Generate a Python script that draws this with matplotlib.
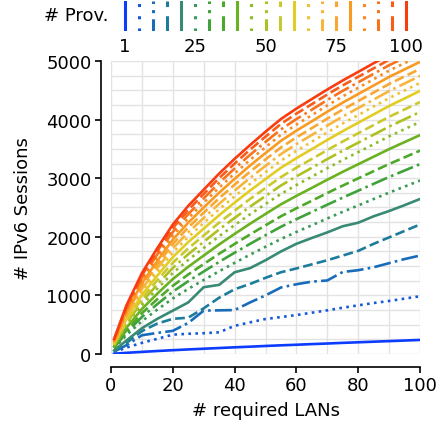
import matplotlib
matplotlib.use("Agg")
import matplotlib.pyplot as plt
from matplotlib.ticker import MultipleLocator

plt.rcParams['font.family'] = ['DejaVu Sans']
plt.rcParams['font.size'] = 13

# x axis: number of required LANs
lans = [1, 5, 10, 15, 20, 25, 30, 35, 40, 45, 50, 55, 60, 65, 70, 75, 80, 85, 90, 95, 100]

# number of providers for each curve
providers = [1, 5, 10, 15, 20, 25, 30, 35, 40, 45, 50, 55, 60, 65, 70, 75, 80, 85, 90, 95, 100]

# IPv6 sessions, one list per provider count
s1 = [5, 20, 36, 51, 65, 78, 90, 102, 114, 125, 137, 148, 158, 169, 179, 190, 200, 210, 220, 230, 240]
s5 = [30, 110, 190, 260, 330, 345, 355, 370, 480, 540, 597, 630, 665, 705, 745, 790, 830, 870, 905, 945, 985]
s10 = [40, 150, 320, 360, 395, 530, 740, 745, 750, 880, 1000, 1135, 1190, 1235, 1255, 1400, 1430, 1480, 1550, 1620, 1680]
s15 = [50, 190, 390, 520, 600, 620, 780, 960, 1105, 1195, 1300, 1395, 1460, 1530, 1600, 1680, 1760, 1880, 1990, 2100, 2210]
s20 = [60, 230, 440, 600, 740, 880, 1140, 1180, 1395, 1465, 1600, 1750, 1880, 1980, 2075, 2180, 2240, 2350, 2440, 2540, 2645]
s25 = [93, 324, 560, 758, 948, 1111, 1263, 1412, 1555, 1695, 1830, 1962, 2082, 2197, 2313, 2426, 2535, 2645, 2754, 2857, 2960]
s30 = [106, 366, 632, 852, 1063, 1242, 1408, 1572, 1728, 1880, 2027, 2171, 2300, 2424, 2548, 2669, 2787, 2904, 3021, 3131, 3240]
s35 = [119, 405, 696, 936, 1164, 1357, 1535, 1711, 1878, 2040, 2196, 2350, 2486, 2615, 2747, 2874, 2997, 3120, 3242, 3356, 3470]
s40 = [132, 449, 768, 1030, 1279, 1488, 1680, 1869, 2049, 2223, 2390, 2554, 2698, 2835, 2974, 3109, 3238, 3367, 3496, 3616, 3735]
s45 = [145, 489, 834, 1115, 1382, 1605, 1809, 2010, 2199, 2384, 2559, 2732, 2883, 3026, 3171, 3311, 3445, 3579, 3714, 3837, 3960]
s50 = [156, 524, 890, 1187, 1469, 1703, 1915, 2125, 2322, 2514, 2696, 2875, 3031, 3177, 3326, 3469, 3606, 3743, 3880, 4005, 4130]
s55 = [167, 559, 947, 1260, 1557, 1801, 2023, 2241, 2446, 2645, 2834, 3019, 3179, 3328, 3481, 3627, 3767, 3907, 4047, 4173, 4300]
s60 = [180, 596, 1009, 1339, 1653, 1909, 2140, 2368, 2583, 2789, 2985, 3178, 3342, 3496, 3653, 3803, 3946, 4089, 4232, 4361, 4490]
s65 = [190, 629, 1060, 1405, 1731, 1996, 2235, 2470, 2690, 2902, 3103, 3300, 3467, 3623, 3782, 3934, 4078, 4223, 4367, 4496, 4625]
s70 = [200, 658, 1108, 1466, 1803, 2076, 2322, 2563, 2788, 3005, 3210, 3412, 3581, 3738, 3899, 4052, 4197, 4342, 4487, 4616, 4745]
s75 = [210, 689, 1157, 1528, 1877, 2159, 2411, 2658, 2889, 3111, 3320, 3525, 3696, 3855, 4017, 4171, 4317, 4462, 4608, 4737, 4865]
s80 = [220, 720, 1206, 1590, 1952, 2241, 2500, 2753, 2989, 3216, 3429, 3638, 3811, 3971, 4135, 4290, 4436, 4582, 4728, 4857, 4985]
s85 = [230, 749, 1253, 1649, 2021, 2318, 2582, 2841, 3081, 3312, 3529, 3741, 3916, 4076, 4241, 4397, 4543, 4689, 4836, 4963, 5090]
s90 = [239, 776, 1296, 1702, 2084, 2387, 2656, 2920, 3165, 3399, 3619, 3833, 4009, 4169, 4335, 4491, 4636, 4782, 4928, 5054, 5180]
s95 = [248, 803, 1339, 1756, 2149, 2458, 2732, 3001, 3249, 3487, 3709, 3926, 4102, 4263, 4429, 4584, 4730, 4875, 5021, 5145, 5270]
s100 = [256, 830, 1380, 1807, 2209, 2528, 2804, 3079, 3330, 3566, 3793, 4010, 4188, 4351, 4513, 4668, 4814, 4962, 5103, 5229, 5350]

series = [s1, s5, s10, s15, s20, s25, s30, s35, s40, s45, s50,
          s55, s60, s65, s70, s75, s80, s85, s90, s95, s100]

colors = ['#0b3cff', '#1559dc', '#196cb9', '#1d7c9c', '#388a74', '#3a9a56',
          '#3fa23a', '#4ea92b', '#6ab222', '#8fbb2a', '#afc022', '#c9c92f',
          '#e2cc26', '#f0c232', '#f6b63e', '#f8a832', '#f99a22', '#f88a20',
          '#f8731e', '#f85c18', '#f83c10']
styles = ['-', ':', '-.', '--']
# coarser patterns for the short vertical legend handles
legend_styles = ['-', (0, (1, 3)), (0, (4, 2, 1, 2)), (0, (5, 3))]

legend_ticks = [0, 5, 10, 15, 20]
legend_labels = ['1', '25', '50', '75', '100']

fig = plt.figure(figsize=(4.41, 4.27), dpi=100)
ax = fig.add_axes([111 / 441, 1 - 355 / 427, 309 / 441, 293 / 427])

for i, (p, ys) in enumerate(zip(providers, series)):
    ax.plot(lans, ys, color=colors[i], linestyle=styles[i % 4], linewidth=1.9)

ax.set_xlim(0, 100)
ax.set_ylim(0, 5000)
ax.xaxis.set_major_locator(MultipleLocator(20))
ax.xaxis.set_minor_locator(MultipleLocator(10))
ax.yaxis.set_major_locator(MultipleLocator(1000))
ax.yaxis.set_minor_locator(MultipleLocator(250))
ax.grid(True, which='both', color='#e3e3e3', linewidth=1.0)
ax.set_axisbelow(True)
ax.tick_params(which='minor', length=0)
ax.tick_params(which='major', length=4, width=1.2, pad=3)

for spine in ['right', 'top']:
    ax.spines[spine].set_visible(False)
ax.spines['left'].set_position(('outward', 7))
ax.spines['bottom'].set_position(('outward', 9))
ax.spines['left'].set_bounds(0, 5000)
ax.spines['bottom'].set_bounds(0, 100)
ax.spines['left'].set_linewidth(1.2)
ax.spines['bottom'].set_linewidth(1.2)

ax.set_xlabel('# required LANs', labelpad=5)
ax.set_ylabel('# IPv6 Sessions', labelpad=10)

# legend strip on top
lax = fig.add_axes([118 / 441, 1 - 32 / 427, 295 / 441, 30 / 427])
for i in range(len(providers)):
    lax.plot([i, i], [0, 1], color=colors[i], linestyle=legend_styles[i % 4], linewidth=2.2)
lax.set_xlim(-0.5, 20.5)
lax.set_ylim(0, 1)
lax.set_xticks(legend_ticks)
lax.set_xticklabels(legend_labels)
lax.set_yticks([])
lax.tick_params(length=0, pad=4)
for spine in lax.spines.values():
    spine.set_visible(False)
fig.text(108 / 441, 1 - 16 / 427, '# Prov.', ha='right', va='center', fontsize=13)

fig.savefig('out.png', dpi=100)
